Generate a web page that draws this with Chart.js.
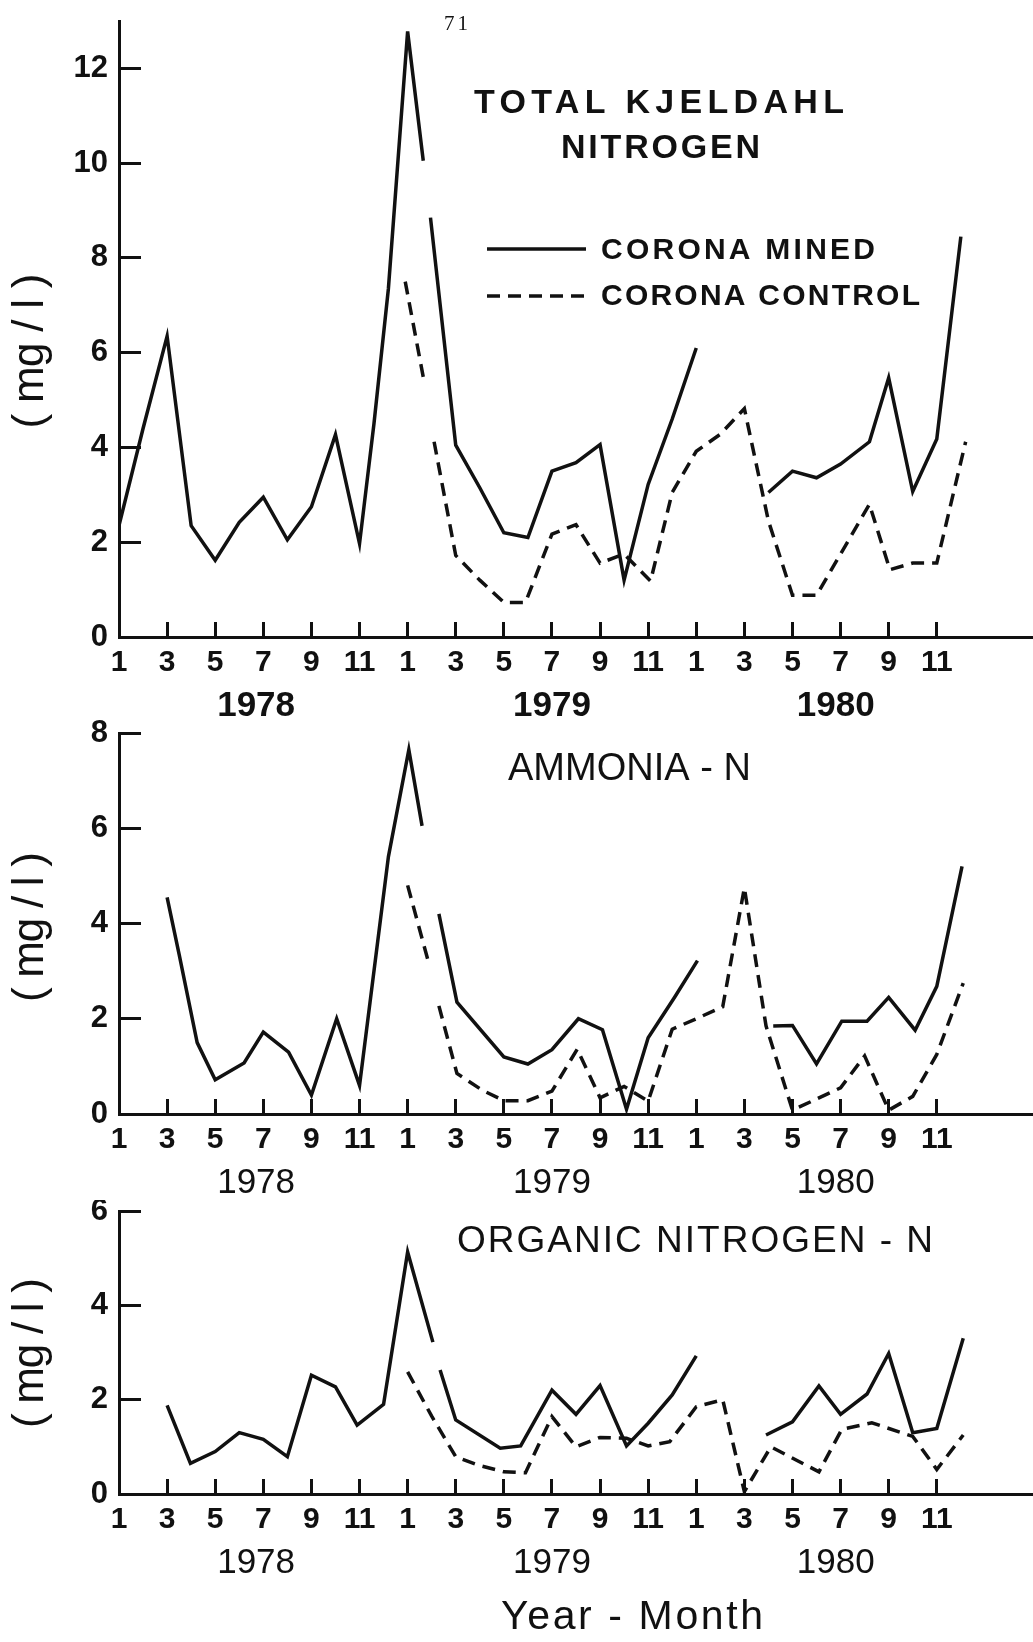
<!DOCTYPE html>
<html>
<head>
<meta charset="utf-8">
<title>Corona - nitrogen 1978-1980</title>
<script src="https://cdn.jsdelivr.net/npm/chart.js@4.4.1/dist/chart.umd.min.js"></script>
<style>
  html, body { margin: 0; padding: 0; background: #fff; }
  body { width: 1033px; height: 1642px; position: relative; overflow: hidden; }
  canvas { position: absolute; left: 0; }
</style>
</head>
<body>
<canvas id="tknChart" width="1033" height="720" style="top:0px"></canvas>
<canvas id="nh3Chart" width="1033" height="480" style="top:720px"></canvas>
<canvas id="orgChart" width="1033" height="442" style="top:1200px"></canvas>
<script>
  // x values are months counted from Jan 1978 (0 = Jan 1978), null breaks the line

  const seriesNames = ['CORONA MINED', 'CORONA CONTROL'];

  const monthTicks = [0, 2, 4, 6, 8, 10, 12, 14, 16, 18, 20, 22, 24, 26, 28, 30, 32, 34];
  const monthLabels = ['1', '3', '5', '7', '9', '11', '1', '3', '5', '7', '9', '11', '1', '3', '5', '7', '9', '11'];
  const yearTicks = [5.7, 18, 29.8];
  const yearLabels = ['1978', '1979', '1980'];

  /* Total Kjeldahl nitrogen */
  const tknMinedX = [0, 1, 2, 3, 4, 5, 6, 7, 8, 9, 10, 10.6, 11.2, 12, 12.65, null, 12.95, 14, 15, 16, 17, 18, 19, 20, 21, 22, 23, 24, null, 27, 28, 29, 30, 31.2, 32, 33, 34, 35];
  const tknMinedY = [2.35, 4.4, 6.35, 2.35, 1.62, 2.42, 2.95, 2.05, 2.75, 4.27, 1.97, 4.5, 7.35, 12.78, 10.05, null, 8.85, 4.05, 3.15, 2.2, 2.1, 3.5, 3.68, 4.06, 1.2, 3.22, 4.6, 6.1, null, 3.05, 3.5, 3.36, 3.65, 4.12, 5.47, 3.07, 4.18, 8.45];
  const tknControlX = [11.9, 12.7, null, 13.1, 14, 15, 16, 16.9, 18, 19, 20, 21, 22.1, 23, 24, 25, 26, 27, 28, 29, 31.2, 32.05, 33, 34, 35.2];
  const tknControlY = [7.5, 5.35, null, 4.12, 1.72, 1.2, 0.73, 0.73, 2.17, 2.37, 1.56, 1.75, 1.18, 3.05, 3.92, 4.28, 4.82, 2.45, 0.88, 0.88, 2.8, 1.42, 1.56, 1.56, 4.12];
  const tknTicks = [0, 2, 4, 6, 8, 10, 12];

  /* Ammonia-N */
  const nh3MinedX = [2, 2.5, 3.25, 4, 5.2, 6, 7.05, 8, 9.05, 10, 11.2, 12.05, 12.6, null, 13.3, 14.05, 16, 17, 18, 19.1, 20.1, 21.1, 22, 23.1, 24.05, null, 27.2, 28, 29, 30.05, 31.1, 32, 33.1, 34, 35.05];
  const nh3MinedY = [4.55, 3.35, 1.5, 0.72, 1.07, 1.72, 1.3, 0.4, 2.0, 0.6, 5.4, 7.65, 6.05, null, 4.2, 2.35, 1.2, 1.05, 1.35, 2.0, 1.77, 0.1, 1.6, 2.45, 3.22, null, 1.85, 1.86, 1.05, 1.95, 1.95, 2.45, 1.76, 2.68, 5.2];
  const nh3ControlX = [12, 12.85, null, 13.3, 14.05, 15.1, 16, 17, 18, 19.05, 20, 21, 22, 23, 24, 25.1, 26, 26.9, 28, 30, 31, 32, 33, 34, 35.1];
  const nh3ControlY = [4.8, 3.22, null, 2.27, 0.85, 0.5, 0.28, 0.28, 0.48, 1.36, 0.34, 0.58, 0.27, 1.78, 2.0, 2.25, 4.75, 1.85, 0.08, 0.55, 1.22, 0.08, 0.37, 1.25, 2.75];
  const nh3Ticks = [0, 2, 4, 6, 8];

  /* Organic nitrogen-N */
  const orgMinedX = [2, 2.97, 4, 5, 6, 7, 8, 9, 9.9, 11, 12, 13.05, null, 13.35, 14, 15.85, 16.7, 18, 19, 20, 21.1, 22, 23, 24, null, 26.9, 28, 29.1, 30, 31.1, 32, 33, 34, 35.1];
  const orgMinedY = [1.88, 0.65, 0.9, 1.3, 1.16, 0.79, 2.52, 2.27, 1.46, 1.9, 5.13, 3.22, null, 2.63, 1.57, 0.97, 1.02, 2.2, 1.69, 2.3, 1.02, 1.5, 2.1, 2.93, null, 1.25, 1.53, 2.29, 1.69, 2.12, 2.98, 1.3, 1.39, 3.3];
  const orgControlX = [12, 13, 14, 14.95, 16, 16.9, 18, 19, 20, 21.1, 22, 22.9, 24, 25.1, 26, 27.1, 29.1, 30.05, 31.3, 33, 34, 35.1];
  const orgControlY = [2.59, 1.65, 0.79, 0.61, 0.47, 0.45, 1.64, 1.0, 1.2, 1.18, 1.02, 1.11, 1.85, 2.0, 0.05, 1.0, 0.47, 1.37, 1.51, 1.22, 0.52, 1.25];
  const orgTicks = [0, 2, 4, 6];


  const INK = '#111';
  const FONT = '"Liberation Sans", Arial, sans-serif';
  const DASH = [13, 8];

  // draws the lettering and legend keys of the old figure
  const paperText = {
    id: 'paperText',
    afterDraw(chart, args, opts) {
      const ctx = chart.ctx;
      (opts.keys || []).forEach(k => {
        const ds = chart.data.datasets[k.dataset];
        ctx.save();
        ctx.strokeStyle = ds.borderColor;
        ctx.lineWidth = ds.borderWidth;
        ctx.setLineDash(ds.borderDash || []);
        ctx.beginPath();
        ctx.moveTo(k.x, k.y);
        ctx.lineTo(k.x + k.len, k.y);
        ctx.stroke();
        ctx.restore();
      });
      (opts.items || []).forEach(t => {
        const text = t.dataset !== undefined ? chart.data.datasets[t.dataset].label : t.text;
        ctx.save();
        ctx.font = (t.weight || 'normal') + ' ' + t.size + 'px ' + (t.family || FONT);
        ctx.fillStyle = INK;
        ctx.textAlign = 'left';
        ctx.textBaseline = 'middle';
        const w0 = ctx.measureText(text).width;
        if (t.w && text.length > 1 && 'letterSpacing' in ctx) {
          ctx.letterSpacing = ((t.w - w0) / (text.length - 1)).toFixed(2) + 'px';
        }
        ctx.translate(t.x, t.y);
        if (t.rot) {
          ctx.rotate(t.rot);
          ctx.fillText(text, -t.w / 2, 0);
        } else {
          ctx.fillText(text, 0, 0);
        }
        ctx.restore();
      });
    }
  };

  function line(xs, ys, name, dash) {
    return {
      label: name,
      data: xs.map((x, i) => ({x: x, y: ys[i]})),
      borderColor: INK,
      backgroundColor: INK,
      borderWidth: 3.5,
      borderDash: dash,
      borderJoinStyle: 'miter',
      pointRadius: 0,
      tension: 0,
      spanGaps: false,
      fill: false
    };
  }

  function scalesFor(yMax, yTicks, yearWeight) {
    return {
      x: {
        type: 'linear', position: 'bottom', weight: 0, min: 0, max: 38,
        afterBuildTicks: a => { a.ticks = monthTicks.map(v => ({value: v})); },
        afterFit: a => { a.height = 48; a.paddingLeft = 0; a.paddingRight = 0; },
        ticks: {
          callback: (v, i) => monthLabels[i],
          autoSkip: false, maxRotation: 0, padding: 23, color: INK,
          font: {family: FONT, size: 30, weight: 'bold', lineHeight: 1.2}
        },
        grid: {drawOnChartArea: false, drawTicks: true, tickLength: -15, tickWidth: 3, tickColor: INK},
        border: {display: true, width: 3, color: INK}
      },
      years: {
        type: 'linear', position: 'bottom', weight: 1, min: 0, max: 38,
        afterBuildTicks: a => { a.ticks = yearTicks.map(v => ({value: v})); },
        afterFit: a => { a.height = 35; a.paddingLeft = 0; a.paddingRight = 0; },
        ticks: {
          callback: (v, i) => yearLabels[i],
          autoSkip: false, maxRotation: 0, padding: 0, color: INK,
          font: {family: FONT, size: 35, weight: yearWeight, lineHeight: 1.2}
        },
        grid: {display: false, drawTicks: false},
        border: {display: false}
      },
      y: {
        type: 'linear', position: 'left', min: 0, max: yMax,
        afterBuildTicks: a => { a.ticks = yTicks.map(v => ({value: v})); },
        afterFit: a => { a.width = 119; a.paddingTop = 0; a.paddingBottom = 0; },
        ticks: {
          padding: 33, color: INK,
          font: {family: FONT, size: 31, weight: 'bold', lineHeight: 1.2}
        },
        grid: {drawOnChartArea: false, drawTicks: true, tickLength: -22, tickWidth: 3, tickColor: INK},
        border: {display: true, width: 3, color: INK}
      }
    };
  }

  function optionsFor(yMax, yTicks, yearWeight, pad, text) {
    return {
      responsive: false,
      animation: false,
      events: [],
      layout: {padding: pad},
      scales: scalesFor(yMax, yTicks, yearWeight),
      plugins: {
        legend: {display: false},
        tooltip: {enabled: false},
        paperText: text
      }
    };
  }


  /* Gráfico 1 - Total Kjeldahl nitrogen */

  const configTkn = {
    type: 'line',
    data: {
      datasets: [
        line(tknMinedX, tknMinedY, seriesNames[0], []),
        line(tknControlX, tknControlY, seriesNames[1], DASH)
      ]
    },
    options: optionsFor(13, tknTicks, 'bold', {top: 21, right: 0, bottom: 0, left: 0}, {
      keys: [
        {dataset: 0, x: 487, y: 249, len: 99},
        {dataset: 1, x: 487, y: 296, len: 99}
      ],
      items: [
        {text: '71', x: 444, y: 24, size: 21, w: 24, family: '"Liberation Serif", "DejaVu Serif", serif'},
        {text: 'TOTAL KJELDAHL', x: 474, y: 104, size: 34, w: 370, weight: 'bold'},
        {text: 'NITROGEN', x: 561, y: 149, size: 34, w: 199, weight: 'bold'},
        {dataset: 0, x: 601, y: 251, size: 30, w: 274, weight: 'bold'},
        {dataset: 1, x: 601, y: 297, size: 30, w: 319, weight: 'bold'},
        {text: '( mg / l )', x: 31, y: 351, size: 44, w: 155, rot: -Math.PI / 2}
      ]
    })
  };

  const chartTkn = new Chart(document.getElementById('tknChart'), {...configTkn, plugins: [paperText]});


  /* Gráfico 2 - Ammonia-N */

  const configNh3 = {
    type: 'line',
    data: {
      datasets: [
        line(nh3MinedX, nh3MinedY, seriesNames[0], []),
        line(nh3ControlX, nh3ControlY, seriesNames[1], DASH)
      ]
    },
    options: optionsFor(8, nh3Ticks, 'normal', {top: 13, right: 0, bottom: 3, left: 0}, {
      items: [
        {text: 'AMMONIA - N', x: 508, y: 50, size: 38, w: 243},
        {text: '( mg / l )', x: 31, y: 207, size: 44, w: 150, rot: -Math.PI / 2}
      ]
    })
  };

  const chartNh3 = new Chart(document.getElementById('nh3Chart'), {...configNh3, plugins: [paperText]});


  /* Gráfico 3 - Organic nitrogen-N */

  const configOrg = {
    type: 'line',
    data: {
      datasets: [
        line(orgMinedX, orgMinedY, seriesNames[0], []),
        line(orgControlX, orgControlY, seriesNames[1], DASH)
      ]
    },
    options: optionsFor(6, orgTicks, 'normal', {top: 11, right: 0, bottom: 65, left: 0}, {
      items: [
        {text: 'ORGANIC NITROGEN - N', x: 457, y: 42, size: 37, w: 476},
        {text: '( mg / l )', x: 31, y: 153, size: 44, w: 150, rot: -Math.PI / 2},
        {text: 'Year - Month', x: 501, y: 418, size: 41, w: 262}
      ]
    })
  };

  const chartOrg = new Chart(document.getElementById('orgChart'), {...configOrg, plugins: [paperText]});
</script>
</body>
</html>
